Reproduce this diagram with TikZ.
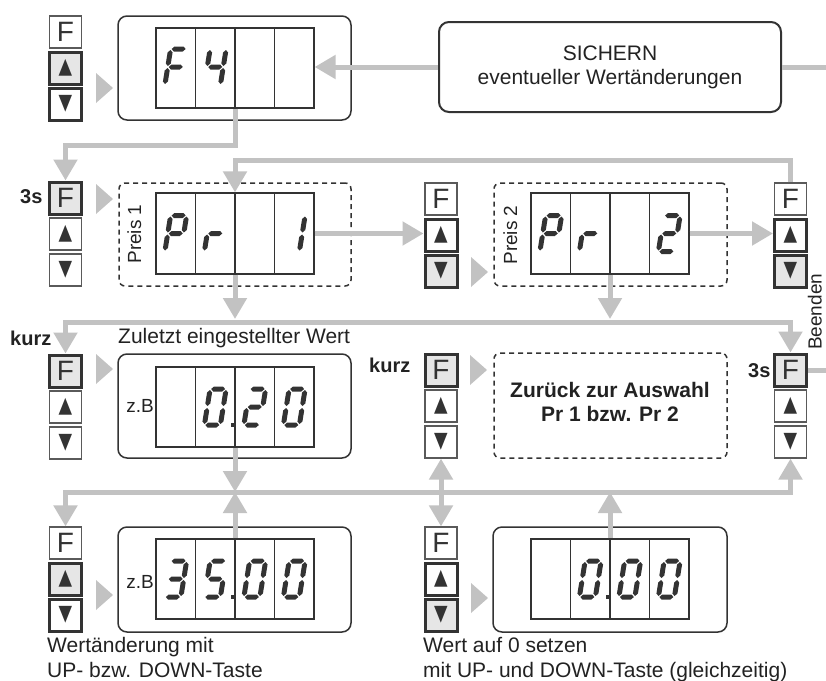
\documentclass[tikz,border=0pt]{standalone}
\usepackage{fontspec}
\usepackage{graphicx}
\setmainfont{Liberation Sans}
\newfontfamily\symf{DejaVu Sans}
\usetikzlibrary{arrows.meta}
\definecolor{lg}{HTML}{C2C2C2}
\definecolor{dk}{HTML}{333333}
\definecolor{kf}{HTML}{E6E6E6}
\definecolor{kb}{HTML}{5A5A5A}
\definecolor{tx}{HTML}{222222}
\newcommand\KUp{{\symf\fontsize{22}{22}\selectfont\scalebox{0.8}[1]{▲}}}
\newcommand\KDn{{\symf\fontsize{22}{22}\selectfont\scalebox{0.8}[1]{▼}}}
\def\SW{8}\def\SH{18}\def\ST{2.5}\def\SG{1}
\newcommand\segH[1]{\fill[dk] (-\SW+\SG,#1) -- (-\SW+\SG+\ST,#1-\ST) -- (\SW-\SG-\ST,#1-\ST) -- (\SW-\SG,#1) -- (\SW-\SG-\ST,#1+\ST) -- (-\SW+\SG+\ST,#1+\ST) -- cycle;}
\newcommand\segV[3]{\fill[dk] (#1,#2+\SG) -- (#1+\ST,#2+\SG+\ST) -- (#1+\ST,#3-\SG-\ST) -- (#1,#3-\SG) -- (#1-\ST,#3-\SG-\ST) -- (#1-\ST,#2+\SG+\ST) -- cycle;}
\def\sgxa{\segH{-\SH}}
\def\sgxg{\segH{0}}
\def\sgxd{\segH{\SH}}
\def\sgxf{\segV{-\SW}{-\SH}{0}}
\def\sgxb{\segV{\SW}{-\SH}{0}}
\def\sgxe{\segV{-\SW}{0}{\SH}}
\def\sgxc{\segV{\SW}{0}{\SH}}
\newcommand\dd[4]{\begin{scope}[shift={({#1+(#3-2.5)*39.5},#2)},xslant=0.16]\foreach \s in {#4}{\csname sgx\s\endcsname}\end{scope}}
\newcommand\dpt[3]{\fill[dk] ({#1+(#3-2)*39.5-4.5},{#2+16}) rectangle ++(3.5,3.5);}
\newcommand\ptr[2]{\fill[lg] (#1,{#2-15}) -- ({#1+17},#2) -- (#1,{#2+15}) -- cycle;}
\newcommand\kstack[6]{%
 \node[#4] (#1F) at (#2,#3) {F};
 \node[#5] (#1U) at (#2,{#3+36}) {\KUp};
 \node[#6] (#1D) at (#2,{#3+72}) {\KDn};}
\newcommand\cells[4]{%
 \node[cellbox, minimum height=#4] (#1) at (#2,#3) {};
 \foreach \i in {-1,0,1}{\draw[dk, line width=1.2pt] ([xshift=\i*39.5pt]#1.north) -- ([xshift=\i*39.5pt]#1.south);}}
\tikzset{
 Tri/.tip={Triangle[length=21pt,width=23pt]},
 conn/.style={draw=lg, line width=5pt},
 key/.style={draw=kb, line width=1.2pt, fill=white, minimum width=32pt, minimum height=32pt, inner sep=0pt, text=dk, font=\fontsize{28}{28}\selectfont},
 keyT/.style={key, draw=dk, line width=3pt},
 keyG/.style={keyT, fill=kf},
 dispbox/.style={draw=dk, line width=1.5pt, rounded corners=9pt, inner sep=0pt},
 dbox/.style={draw=dk, line width=1.5pt, dash pattern=on 5pt off 4pt, rounded corners=6pt, inner sep=0pt},
 cellbox/.style={draw=dk, line width=1.2pt, minimum width=158pt, inner sep=0pt},
 txt/.style={text=tx, inner sep=0pt, font=\fontsize{21}{24}\selectfont},
 btxt/.style={text=tx, inner sep=0pt, font=\bfseries\fontsize{20}{23}\selectfont},
}
\begin{document}
\begin{tikzpicture}[x=1pt,y=-1pt]
\useasboundingbox (0,0) rectangle (826,680);
% ---- displays and boxes
\node[dispbox, minimum width=233pt, minimum height=104pt] (d1) at (234.5,68) {};
\node[draw=dk, line width=2pt, rounded corners=10pt, minimum width=342pt, minimum height=90pt, align=center, txt] (sich) at (610,67) {SICHERN\\eventueller Wertänderungen};
\node[dbox, minimum width=232pt, minimum height=103pt] (p1box) at (235,234.5) {};
\node[dbox, minimum width=233pt, minimum height=103pt] (p2box) at (610.5,234.5) {};
\node[dispbox, minimum width=233pt, minimum height=104pt] (d3) at (234.5,406) {};
\node[dbox, minimum width=233pt, minimum height=105pt] (zbox) at (610.5,405.5) {};
\node[txt, font=\bfseries\fontsize{21}{24}\selectfont, align=center] (ztext) at (610,402) {Zurück zur Auswahl\\Pr 1 bzw. Pr 2};
\node[dispbox, minimum width=233pt, minimum height=105pt] (d4) at (234.5,579.5) {};
\node[dispbox, minimum width=234pt, minimum height=105pt] (d5) at (610,579.5) {};
% ---- digit cells
\cells{c1}{235}{68}{80}
\cells{c2}{235}{233.5}{81}
\cells{c3}{610}{233.5}{81}
\cells{c4}{235}{407}{80}
\cells{c5}{235}{579}{80}
\cells{c6}{610}{579}{80}
% ---- seven segment digits
\dd{235}{67}{1}{a,f,e,g}
\dd{235}{67}{2}{f,g,b,c}
\dd{235}{233.5}{1}{a,b,f,g,e}
\dd{235}{233.5}{2}{e,g}
\dd{235}{233.5}{4}{b,c}
\dd{610}{233.5}{1}{a,b,f,g,e}
\dd{610}{233.5}{2}{e,g}
\dd{610}{233.5}{4}{a,b,g,e,d}
\dd{235}{407}{2}{a,b,c,d,e,f}\dpt{235}{407}{2}
\dd{235}{407}{3}{a,b,g,e,d}
\dd{235}{407}{4}{a,b,c,d,e,f}
\dd{235}{579}{1}{a,b,g,c,d}
\dd{235}{579}{2}{a,f,g,c,d}\dpt{235}{579}{2}
\dd{235}{579}{3}{a,b,c,d,e,f}
\dd{235}{579}{4}{a,b,c,d,e,f}
\dd{610}{579}{2}{a,b,c,d,e,f}\dpt{610}{579}{2}
\dd{610}{579}{3}{a,b,c,d,e,f}
\dd{610}{579}{4}{a,b,c,d,e,f}
% ---- key stacks
\kstack{kA}{65.5}{32}{key}{keyG}{keyT}
\kstack{kB}{65.5}{198}{keyG}{key}{key}
\kstack{kC}{441}{199}{key}{keyT}{keyG}
\kstack{kD}{790.5}{199}{key}{keyT}{keyG}
\kstack{kE}{65.5}{371}{keyG}{key}{key}
\kstack{kF}{441}{370}{keyG}{key}{key}
\kstack{kG}{790.5}{370}{keyG}{key}{key}
\kstack{kH}{65.5}{543}{key}{keyG}{keyT}
\kstack{kI}{441}{543}{key}{keyT}{keyG}
% ---- pointers
\ptr{96}{88}
\ptr{96}{199}
\ptr{471}{272}
\ptr{96}{369}
\ptr{470}{370}
\ptr{96}{595}
\ptr{471}{598}
% ---- texts
\node[txt, rotate=90, font=\fontsize{19}{22}\selectfont, anchor=base] (pr1) at (141,234) {Preis 1};
\node[txt, rotate=90, font=\fontsize{19}{22}\selectfont, anchor=base] (pr2) at (517,235) {Preis 2};
\node[txt, rotate=90, font=\fontsize{19}{22}\selectfont, anchor=base west] (been) at (821.5,350) {Beenden};
\node[btxt, anchor=base west] (s3a) at (20,203) {3s};
\node[btxt, anchor=base west] (s3b) at (748,377) {3s};
\node[btxt, anchor=base west] (kurz1) at (10,345) {kurz};
\node[btxt, anchor=base west] (kurz2) at (369,372) {kurz};
\node[txt, anchor=base west] (zul) at (118,343) {Zuletzt eingestellter Wert};
\node[txt, font=\fontsize{19}{21}\selectfont, anchor=base east] (zb1) at (154,412) {z.B};
\node[txt, font=\fontsize{19}{21}\selectfont, anchor=base east] (zb2) at (154,588) {z.B};
\node[txt, anchor=base west] (w1) at (47,652) {Wertänderung mit};
\node[txt, anchor=base west] (w2) at (47,677) {UP- bzw. DOWN-Taste};
\node[txt, anchor=base west] (w3) at (423,652) {Wert auf 0 setzen};
\node[txt, anchor=base west] (w4) at (423,677) {mit UP- und DOWN-Taste (gleichzeitig)};
% ---- connectors
\coordinate (j1) at (235,145);
\coordinate (j2) at (235,160);
\coordinate (j3) at (235,319);
\coordinate (j4) at (610,319);
\coordinate (h1) at (400,322);
\coordinate (j5) at (235,492);
\coordinate (j7) at (610,492);
\coordinate (h2) at (400,492);
\coordinate (exA) at (826,67);
\coordinate (exB) at (826,370);
\draw[conn,-Tri] (c1.south) -- (j1) -| (kBF.north);
\draw[conn,-Tri] (sich.west) -- (sich.west -| c1.east);
\draw[conn] (sich.east) -- (exA);
\draw[conn,-Tri] (kDF.north) |- (j2) -- (c2.north);
\draw[conn,-Tri] (c2.east) -- (c2.east -| kCU.west);
\draw[conn,-Tri] (c3.east) -- (c3.east -| kDU.west);
\draw[conn,-Tri] (c2.south) -- (j3);
\draw[conn,-Tri] (c3.south) -- (j4);
\draw[conn,Tri-Tri] (kEF.north) |- (h1) -| (kGF.north);
\draw[conn,Tri-Tri] (kHF.north) |- (h2) -| (kGD.south);
\draw[conn,-Tri] (c4.south) -- (j5);
\draw[conn,-Tri] (c5.north) -- (j5);
\draw[conn,-Tri] (c6.north) -- (j7);
\draw[conn,Tri-Tri] (kFD.south) -- (kIF.north);
\draw[conn] (kGF.east) -- (exB);
\end{tikzpicture}
\end{document}
